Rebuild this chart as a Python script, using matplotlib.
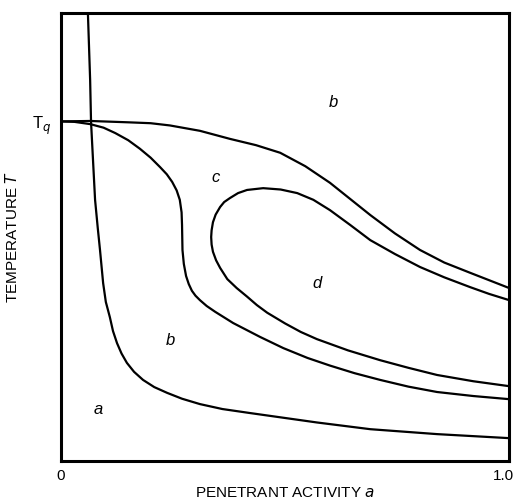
import matplotlib
matplotlib.use("Agg")
import matplotlib.pyplot as plt
from matplotlib.transforms import ScaledTranslation

plt.rcParams['font.family'] = ['Liberation Sans', 'DejaVu Sans']

# temperature level where the boundaries meet the T axis
T_q = 0.758

# a / b boundary (glassy region a, rubbery b), from top to bottom
ab_x = [0.060, 0.065, 0.067, 0.072, 0.076, 0.082, 0.087, 0.094, 0.100, 0.109,
        0.116, 0.125, 0.135, 0.147, 0.163, 0.183, 0.208, 0.237, 0.270, 0.310,
        0.360, 0.422, 0.500, 0.571, 0.690, 0.839, 1.000]
ab_t = [1.000, 0.850, 0.757, 0.660, 0.583, 0.520, 0.471, 0.397, 0.355, 0.321,
        0.290, 0.263, 0.240, 0.219, 0.199, 0.181, 0.165, 0.152, 0.139, 0.127,
        0.116, 0.107, 0.096, 0.086, 0.071, 0.060, 0.051]

# upper boundary of region c
upper_x = [0.000, 0.065, 0.150, 0.200, 0.243, 0.310, 0.377, 0.435, 0.489, 0.545,
           0.600, 0.645, 0.690, 0.745, 0.801, 0.855, 0.913, 1.000]
upper_t = [T_q, 0.759, 0.756, 0.754, 0.749, 0.737, 0.719, 0.705, 0.688, 0.658,
           0.621, 0.585, 0.549, 0.508, 0.471, 0.443, 0.420, 0.386]

# lower boundary of region c (S-shaped)
lower_x = [0.000, 0.030, 0.065, 0.095, 0.121, 0.150, 0.176, 0.200, 0.221, 0.236,
           0.248, 0.258, 0.265, 0.269, 0.270, 0.271, 0.274, 0.279, 0.285, 0.292,
           0.300, 0.310, 0.325, 0.344, 0.384, 0.444, 0.496, 0.550, 0.600, 0.655,
           0.712, 0.775, 0.839, 0.920, 1.000]
lower_t = [T_q, 0.757, 0.752, 0.744, 0.732, 0.716, 0.697, 0.677, 0.656, 0.640,
           0.623, 0.604, 0.583, 0.555, 0.527, 0.471, 0.440, 0.413, 0.395, 0.380,
           0.369, 0.359, 0.346, 0.333, 0.308, 0.277, 0.252, 0.230, 0.213, 0.196,
           0.181, 0.166, 0.154, 0.145, 0.138]

# closed-nose boundary of region d, upper branch then lower branch
d_x = [1.000, 0.955, 0.913, 0.855, 0.801, 0.745, 0.690, 0.645, 0.600, 0.563,
       0.527, 0.490, 0.451, 0.415, 0.395, 0.377, 0.364, 0.355, 0.345, 0.339,
       0.336, 0.335, 0.336, 0.339, 0.346, 0.355, 0.371, 0.392, 0.415, 0.437,
       0.460, 0.500, 0.535, 0.571, 0.640, 0.712, 0.775, 0.839, 0.920, 1.000]
d_t = [0.359, 0.373, 0.388, 0.410, 0.433, 0.462, 0.493, 0.527, 0.560, 0.583,
       0.598, 0.606, 0.609, 0.605, 0.598, 0.587, 0.578, 0.567, 0.550, 0.533,
       0.515, 0.500, 0.483, 0.467, 0.448, 0.431, 0.406, 0.386, 0.367, 0.348,
       0.331, 0.307, 0.288, 0.272, 0.247, 0.225, 0.208, 0.192, 0.178, 0.167]

# region letters and where they sit
region_names = ['b', 'c', 'd', 'b', 'a']
region_x = [0.607, 0.344, 0.571, 0.243, 0.083]
region_t = [0.800, 0.632, 0.397, 0.270, 0.114]

fig = plt.figure(figsize=(5.17, 5.00), dpi=100)
ax = fig.add_axes([0.118, 0.078, 0.867, 0.896])

for xs, ts in [(ab_x, ab_t), (upper_x, upper_t), (lower_x, lower_t), (d_x, d_t)]:
    ax.plot(xs, ts, color='black', linewidth=1.6,
            solid_capstyle='round', solid_joinstyle='round')

for name, x, t in zip(region_names, region_x, region_t):
    ax.text(x, t, name, fontsize=12, style='italic', ha='center', va='center')

ax.set_xlim(0, 1)
ax.set_ylim(0, 1)
for sp in ax.spines.values():
    sp.set_linewidth(2.2)

ax.set_xticks([0, 1])
ax.set_xticklabels(['0', '1.0'])
ax.set_yticks([T_q])
ax.set_yticklabels([r'$\mathregular{T}_q$'], fontsize=12)
ax.tick_params(axis='x', length=0, labelsize=11, pad=6)
ax.tick_params(axis='y', length=0, pad=7)

# keep the "1.0" label inside the figure
last = ax.get_xticklabels()[-1]
last.set_transform(last.get_transform() + ScaledTranslation(-4 / 72, 0, fig.dpi_scale_trans))

ax.set_xlabel(r'PENETRANT ACTIVITY $a$', fontsize=11, labelpad=2)
ax.set_ylabel(r'TEMPERATURE $T$', fontsize=11)
ax.yaxis.set_label_coords(-0.092, 0.5)

fig.savefig('out.png', dpi=100)
